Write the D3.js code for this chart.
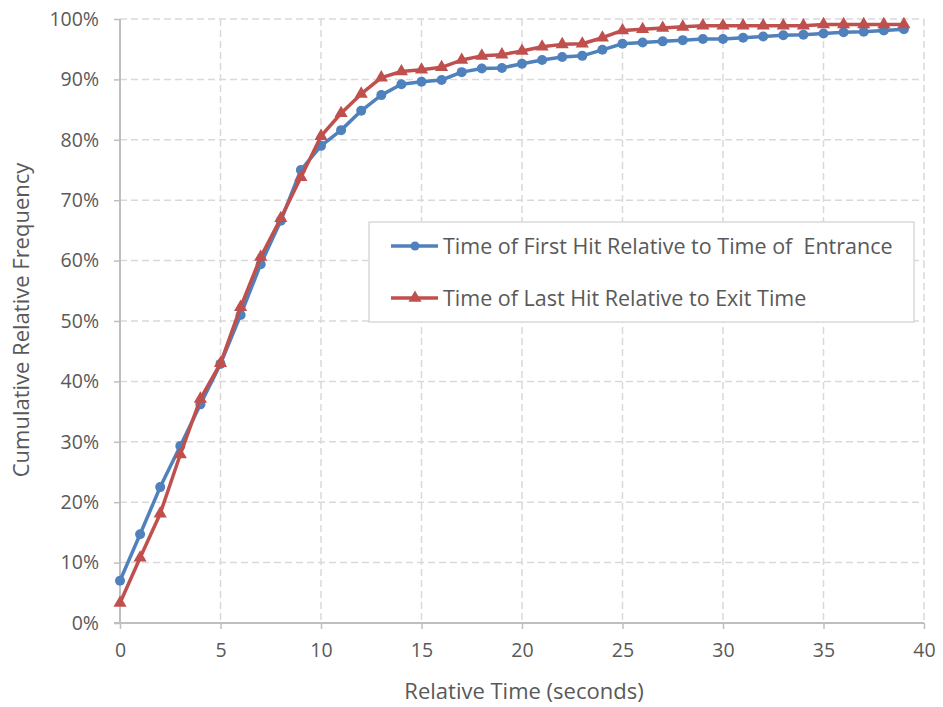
<!DOCTYPE html>
<html>
<head>
<meta charset="utf-8">
<script src="https://cdn.jsdelivr.net/npm/d3@7"></script>
<style>
  body { margin: 0; background: #fff; }
  svg text { font-family: "Open Sans", "Noto Sans", sans-serif; fill: #595959; white-space: pre; }
</style>
</head>
<body>
<svg width="943" height="707"></svg>
<script>
// Data (percent values)
const times = d3.range(0, 40);
const firstHit = [7.0, 14.7, 22.5, 29.3, 36.2, 42.9, 51.0, 59.4, 66.6, 75.0,
  79.0, 81.6, 84.8, 87.4, 89.2, 89.6, 89.9, 91.2, 91.8, 91.9,
  92.6, 93.2, 93.7, 93.9, 94.9, 95.9, 96.1, 96.3, 96.5, 96.7,
  96.7, 96.9, 97.1, 97.3, 97.4, 97.6, 97.8, 97.9, 98.1, 98.3];
const lastHit = [3.3, 10.8, 18.1, 27.9, 37.1, 43.0, 52.3, 60.6, 67.0, 73.8,
  80.6, 84.4, 87.6, 90.3, 91.3, 91.6, 92.0, 93.2, 93.9, 94.1,
  94.7, 95.4, 95.8, 95.9, 96.9, 98.1, 98.3, 98.5, 98.7, 98.9,
  98.9, 98.9, 98.9, 98.9, 98.9, 99.1, 99.1, 99.1, 99.1, 99.1];
const seriesNames = ['Time of First Hit Relative to Time of  Entrance', 'Time of Last Hit Relative to Exit Time'];
const seriesColors = ['#4f81bd', '#c0504d'];
const xTicks = [0, 5, 10, 15, 20, 25, 30, 35, 40];
const yTicks = d3.range(0, 101, 10);

const svg = d3.select('svg');
const margin = { left: 120, right: 19, top: 19, bottom: 84 };
const width = +svg.attr('width');
const height = +svg.attr('height');
const innerWidth = width - margin.left - margin.right;
const innerHeight = height - margin.top - margin.bottom;

const g = svg.append('g').attr('transform', `translate(${margin.left},${margin.top})`);

const xScale = d3.scaleLinear().domain([0, 40]).range([0, innerWidth]);
const yScale = d3.scaleLinear().domain([0, 100]).range([innerHeight, 0]);

// Dashed gridlines
g.append('g').selectAll('line')
  .data(yTicks.filter(d => d > 0))
  .enter().append('line')
  .attr('x1', 0).attr('x2', innerWidth)
  .attr('y1', d => yScale(d)).attr('y2', d => yScale(d))
  .attr('stroke', '#d9d9d9').attr('stroke-width', 1.5)
  .attr('stroke-dasharray', '7,4');
g.append('g').selectAll('line')
  .data(xTicks.filter(d => d > 0))
  .enter().append('line')
  .attr('x1', d => xScale(d)).attr('x2', d => xScale(d))
  .attr('y1', 0).attr('y2', innerHeight)
  .attr('stroke', '#d9d9d9').attr('stroke-width', 1.5)
  .attr('stroke-dasharray', '7,4');

// Axes
const xAxis = d3.axisBottom(xScale).tickValues(xTicks).tickSize(6).tickPadding(14).tickFormat(d3.format('d'));
const xAxisGroup = g.append('g').attr('transform', `translate(0,${innerHeight})`).call(xAxis);
const yAxis = d3.axisLeft(yScale).tickValues(yTicks).tickSize(6).tickPadding(15).tickFormat(d => d + '%');
const yAxisGroup = g.append('g').call(yAxis);

[xAxisGroup, yAxisGroup].forEach(ax => {
  ax.select('.domain').attr('stroke', '#bfbfbf').attr('stroke-width', 2);
  ax.selectAll('.tick line').attr('stroke', '#bfbfbf').attr('stroke-width', 1.5);
  ax.selectAll('.tick text').attr('fill', '#595959').style('font-size', '19.5px');
});
yAxisGroup.select('.domain').attr('d', `M0,${innerHeight}V0`);
xAxisGroup.select('.domain').attr('d', `M-6,0H${innerWidth}`);

// Axis titles
g.append('text')
  .attr('x', innerWidth / 2 + 2).attr('y', innerHeight + 76)
  .attr('text-anchor', 'middle').style('font-size', '22px')
  .text('Relative Time (seconds)');
g.append('text')
  .attr('transform', 'rotate(-90)')
  .attr('x', -innerHeight / 2 + 1).attr('y', -91)
  .attr('text-anchor', 'middle').style('font-size', '22px')
  .text('Cumulative Relative Frequency');

// Lines and markers
const line = d3.line().x((d, i) => xScale(times[i])).y(d => yScale(d));
const triangle = d3.symbol().type(d3.symbolTriangle).size(75);

[firstHit, lastHit].forEach((vals, si) => {
  g.append('path').datum(vals)
    .attr('fill', 'none').attr('stroke', seriesColors[si])
    .attr('stroke-width', 3.5).attr('stroke-linejoin', 'round')
    .attr('d', line);
  if (si === 0) {
    g.append('g').selectAll('circle').data(vals).enter().append('circle')
      .attr('cx', (d, i) => xScale(times[i])).attr('cy', d => yScale(d))
      .attr('r', 5).attr('fill', seriesColors[si]);
  } else {
    g.append('g').selectAll('path').data(vals).enter().append('path')
      .attr('d', triangle)
      .attr('transform', (d, i) => `translate(${xScale(times[i])},${yScale(d)})`)
      .attr('fill', seriesColors[si]);
  }
});

// Legend
const legend = svg.append('g').attr('transform', 'translate(369,222)');
legend.append('rect').attr('width', 545).attr('height', 100)
  .attr('fill', '#fff').attr('stroke', '#d9d9d9').attr('stroke-width', 1.5);
seriesNames.forEach((name, i) => {
  const ly = 24 + i * 52;
  legend.append('line').attr('x1', 22).attr('x2', 69).attr('y1', ly).attr('y2', ly)
    .attr('stroke', seriesColors[i]).attr('stroke-width', 3.5);
  if (i === 0) {
    legend.append('circle').attr('cx', 46).attr('cy', ly).attr('r', 4.5).attr('fill', seriesColors[i]);
  } else {
    legend.append('path').attr('d', triangle).attr('transform', `translate(46,${ly})`).attr('fill', seriesColors[i]);
  }
  legend.append('text').attr('x', 74).attr('y', ly).attr('dy', '0.35em')
    .style('font-size', '21.5px').text(name);
});
</script>
</body>
</html>
